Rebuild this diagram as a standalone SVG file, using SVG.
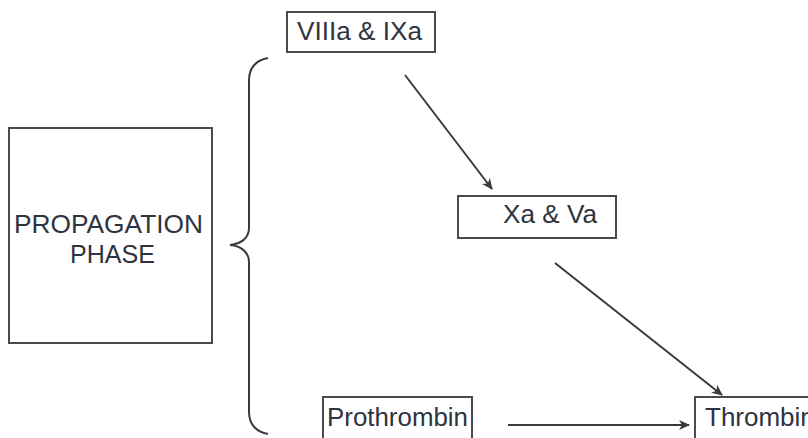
<svg xmlns="http://www.w3.org/2000/svg" width="808" height="438" viewBox="0 0 808 438">
  <defs>
    <marker id="ah" markerWidth="12" markerHeight="10" refX="10" refY="5" orient="auto" markerUnits="userSpaceOnUse">
      <path d="M0,0 L11,5 L0,10 L3,5 Z" fill="#3a3a3f"/>
    </marker>
  </defs>
  <style>
    .box { fill: #fff; stroke: #4a4a50; stroke-width: 2; }
    .lbl { font-family: "Liberation Sans", Arial, sans-serif; font-size: 26px; fill: #2e3440; }
    .con { fill: none; stroke: #3a3a3f; stroke-width: 2; }
  </style>
  <rect width="808" height="438" fill="#fff"/>
  <g id="propagation">
    <rect class="box" x="9" y="128" width="203" height="215"/>
    <text class="lbl" x="14" y="233" textLength="189" lengthAdjust="spacingAndGlyphs">PROPAGATION</text>
    <text class="lbl" x="70" y="263" textLength="85" lengthAdjust="spacingAndGlyphs">PHASE</text>
  </g>
  <g id="brace">
    <path class="con" d="M268,58 C256,60 249,68 249,80 L249,228 C249,238 241,244 230,245 C241,246 249,252 249,262 L249,412 C249,424 256,432 268,434"/>
  </g>
  <g id="viiia">
    <rect class="box" x="287" y="12" width="148" height="40"/>
    <text class="lbl" x="297" y="40" textLength="125" lengthAdjust="spacingAndGlyphs">VIIIa &amp; IXa</text>
  </g>
  <g id="xa">
    <rect class="box" x="458" y="196" width="158" height="42"/>
    <text class="lbl" x="503" y="223" textLength="94" lengthAdjust="spacingAndGlyphs">Xa &amp; Va</text>
  </g>
  <g id="prothrombin">
    <rect class="box" x="323" y="397" width="149" height="50"/>
    <text class="lbl" x="327" y="426" textLength="141" lengthAdjust="spacingAndGlyphs">Prothrombin</text>
  </g>
  <g id="thrombin">
    <rect class="box" x="695" y="397" width="150" height="50"/>
    <text class="lbl" x="705" y="426">Thrombin</text>
  </g>
  <g id="connectors">
    <line class="con" x1="405" y1="75" x2="492" y2="189" marker-end="url(#ah)"/>
    <line class="con" x1="555" y1="263" x2="722" y2="395" marker-end="url(#ah)"/>
    <line class="con" x1="508" y1="425" x2="689" y2="425" marker-end="url(#ah)"/>
  </g>
</svg>
